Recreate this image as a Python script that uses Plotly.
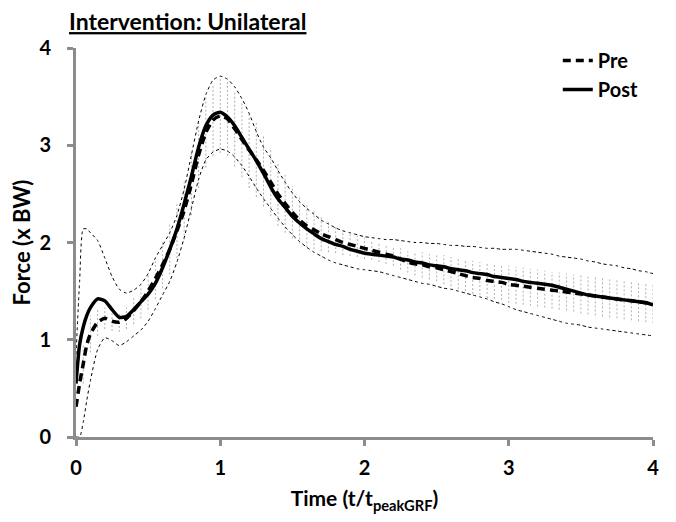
import plotly.graph_objects as go

# ---- data ----
time = [0, 0.025, 0.05, 0.075, 0.1, 0.15, 0.2, 0.25, 0.3, 0.35, 0.4, 0.45, 0.5, 0.55, 0.6, 0.65, 0.7, 0.75,
        0.8, 0.85, 0.9, 0.95, 1.0, 1.05, 1.1, 1.15, 1.2, 1.25, 1.3, 1.35, 1.4, 1.45, 1.5, 1.55, 1.6, 1.65,
        1.7, 1.75, 1.8, 1.85, 1.9, 1.95, 2.0, 2.05, 2.1, 2.15, 2.2, 2.25, 2.3, 2.35, 2.4, 2.45, 2.5, 2.55,
        2.6, 2.65, 2.7, 2.75, 2.8, 2.85, 2.9, 2.95, 3.0, 3.05, 3.1, 3.15, 3.2, 3.25, 3.3, 3.35, 3.4, 3.45,
        3.5, 3.55, 3.6, 3.65, 3.7, 3.75, 3.8, 3.85, 3.9, 3.95, 4.0]

pre = [0.31, 0.55, 0.75, 0.95, 1.06, 1.18, 1.22, 1.19, 1.18, 1.22, 1.30, 1.39, 1.50, 1.63, 1.77, 1.93, 2.12, 2.33,
       2.60, 2.90, 3.13, 3.26, 3.30, 3.27, 3.17, 3.06, 2.95, 2.85, 2.74, 2.62, 2.50, 2.40, 2.31, 2.23, 2.17, 2.13,
       2.09, 2.06, 2.03, 2.00, 1.98, 1.96, 1.94, 1.92, 1.90, 1.88, 1.86, 1.83, 1.80, 1.78, 1.77, 1.75, 1.74, 1.72,
       1.70, 1.68, 1.66, 1.64, 1.63, 1.61, 1.60, 1.59, 1.57, 1.56, 1.55, 1.54, 1.53, 1.52, 1.51, 1.50, 1.49, 1.48,
       1.47, 1.46, 1.45, 1.44, 1.43, 1.42, 1.41, 1.40, 1.39, 1.38, 1.37]

post = [0.55, 0.95, 1.13, 1.25, 1.33, 1.42, 1.40, 1.31, 1.23, 1.24, 1.31, 1.39, 1.47, 1.58, 1.74, 1.93, 2.14, 2.40,
        2.68, 2.98, 3.20, 3.31, 3.34, 3.29, 3.20, 3.08, 2.96, 2.84, 2.71, 2.57, 2.45, 2.36, 2.27, 2.20, 2.14, 2.09,
        2.04, 2.01, 1.98, 1.96, 1.93, 1.91, 1.89, 1.88, 1.87, 1.86, 1.85, 1.83, 1.82, 1.80, 1.79, 1.77, 1.76, 1.75,
        1.73, 1.72, 1.71, 1.69, 1.68, 1.67, 1.65, 1.64, 1.63, 1.62, 1.60, 1.59, 1.58, 1.57, 1.56, 1.54, 1.52, 1.50,
        1.48, 1.46, 1.45, 1.44, 1.43, 1.42, 1.41, 1.40, 1.39, 1.38, 1.36]

upper_sd = [0.85, 1.60, 2.14, 2.14, 2.10, 2.02, 1.84, 1.65, 1.52, 1.48, 1.51, 1.57, 1.68, 1.84, 1.97, 2.10, 2.28, 2.55,
            2.90, 3.25, 3.52, 3.67, 3.71, 3.68, 3.60, 3.48, 3.33, 3.14, 2.98, 2.87, 2.74, 2.62, 2.51, 2.42, 2.35, 2.29,
            2.23, 2.19, 2.15, 2.12, 2.10, 2.08, 2.06, 2.05, 2.04, 2.03, 2.03, 2.02, 2.01, 2.00, 2.00, 1.99, 1.99, 1.98,
            1.97, 1.97, 1.96, 1.96, 1.95, 1.94, 1.94, 1.93, 1.93, 1.93, 1.92, 1.91, 1.90, 1.89, 1.88, 1.86, 1.85, 1.84,
            1.83, 1.81, 1.80, 1.78, 1.77, 1.76, 1.74, 1.73, 1.71, 1.70, 1.68]

lower_sd = [0.00, 0.00, 0.15, 0.38, 0.58, 0.90, 1.02, 0.99, 0.94, 0.98, 1.04, 1.10, 1.19, 1.32, 1.46, 1.60, 1.80, 2.05,
            2.35, 2.65, 2.85, 2.93, 2.96, 2.94, 2.88, 2.79, 2.68, 2.56, 2.45, 2.35, 2.25, 2.16, 2.08, 2.01, 1.95, 1.90,
            1.86, 1.82, 1.79, 1.77, 1.75, 1.73, 1.72, 1.71, 1.70, 1.68, 1.66, 1.64, 1.62, 1.60, 1.58, 1.57, 1.55, 1.53,
            1.52, 1.50, 1.48, 1.46, 1.44, 1.42, 1.39, 1.37, 1.34, 1.31, 1.29, 1.27, 1.25, 1.23, 1.21, 1.19, 1.17, 1.16,
            1.15, 1.13, 1.12, 1.11, 1.10, 1.09, 1.08, 1.07, 1.06, 1.05, 1.04]

pre_err = [0, 0, 0.20, 0, 0.19, 0.14, 0.11, 0.10, 0.10, 0.11, 0.14, 0.17, 0.19, 0.21, 0.24, 0.26, 0.28, 0.30,
           0.32, 0.34, 0.36, 0.37, 0.38, 0.38, 0.39, 0.39, 0.39, 0.38, 0.37, 0.35, 0.33, 0.30, 0.27, 0.24, 0.22, 0.20,
           0.18, 0.16, 0.14, 0.13, 0.12, 0.11, 0.11, 0.10, 0.10, 0.10, 0.10, 0.11, 0.11, 0.12, 0.13, 0.13, 0.14, 0.15,
           0.15, 0.16, 0.16, 0.17, 0.17, 0.18, 0.18, 0.18, 0.19, 0.19, 0.19, 0.19, 0.19, 0.19, 0.19, 0.19, 0.19, 0.19,
           0.20, 0.20, 0.20, 0.20, 0.20, 0.20, 0.20, 0.20, 0.20, 0.20, 0.20]

tick_vals = [0, 1, 2, 3, 4]

# ---- error bars for Pre as gray dotted vertical segments ----
bx, by = [], []
for t, m, e in zip(time, pre, pre_err):
    if e > 0:
        bx += [t, t, None]
        by += [m - e, m + e, None]

FONT = "Lato"
W, H = 668, 514  # page body has an 8px margin
fig = go.Figure()
fig.add_trace(go.Scatter(x=bx, y=by, mode="lines", showlegend=False, hoverinfo="skip",
                         line=dict(color="#b0b0b0", width=1, dash="2px,2px")))
fig.add_trace(go.Scatter(x=time, y=upper_sd, mode="lines", showlegend=False,
                         line=dict(color="black", width=1, dash="dot", shape="spline", smoothing=0.6)))
fig.add_trace(go.Scatter(x=time, y=lower_sd, mode="lines", showlegend=False,
                         line=dict(color="black", width=1, dash="dot", shape="spline", smoothing=0.6)))
fig.add_trace(go.Scatter(x=time, y=pre, mode="lines", name="Pre", legendgroup="a",
                         line=dict(color="black", width=3.5, dash="8px,5px", shape="spline", smoothing=0.6)))
fig.add_trace(go.Scatter(x=time, y=post, mode="lines", name="Post", legendgroup="b",
                         line=dict(color="black", width=3.5, shape="spline", smoothing=0.6)))

axis_common = dict(
    showgrid=False, zeroline=False, showline=True, linecolor="#8c8c8c", linewidth=3,
    ticks="outside", tickcolor="#8c8c8c", tickwidth=3, ticklen=6,
    tickfont=dict(family=FONT, size=20, color="black", weight="bold"),
    tickvals=tick_vals, range=[0, 4], fixedrange=True, automargin=False,
)

fig.update_layout(
    width=W, height=H,
    margin=dict(l=68, r=23, t=40, b=85, autoexpand=False),
    plot_bgcolor="white", paper_bgcolor="white",
    title=dict(text="<b>Intervention: Unilateral</b>", x=61 / W, xanchor="left",
               yref="container", y=1 - 14 / H, yanchor="middle",
               font=dict(family=FONT, size=23, color="black", lineposition="under")),
    xaxis=dict(**axis_common,
               title=dict(text="<b>Time (t/t<sub>peakGRF</sub>)</b>", font=dict(family=FONT, size=21, color="black"),
                          standoff=14)),
    yaxis=dict(**axis_common,
               title=dict(text="<b>Force (x BW)</b>", font=dict(family=FONT, size=22, color="black"), standoff=18)),
    legend=dict(x=0.835, y=1.018, xanchor="left", yanchor="top", bgcolor="rgba(0,0,0,0)",
                font=dict(family=FONT, size=20, color="black", weight="bold"), tracegroupgap=0,
                itemwidth=30),
    showlegend=True,
)
fig.update_xaxes(ticklabelstandoff=5)
fig.update_yaxes(ticklabelstandoff=12)

fig.write_html("out.html")
